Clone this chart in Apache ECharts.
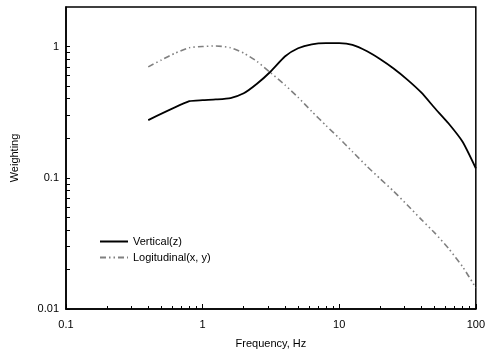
<!DOCTYPE html>
<html>
<head>
<meta charset="utf-8">
<script src="https://cdn.jsdelivr.net/npm/echarts@6/dist/echarts.min.js"></script>
<style>
html,body{margin:0;padding:0;background:#fff;}
#c{width:488px;height:356px;}
</style>
</head>
<body>
<div id="c"></div>
<script>
// Data
var vertFreq = [0.4, 0.8, 1, 1.25, 1.6, 2, 2.5, 3.15, 4, 5, 6.3, 8, 10, 12.5, 16, 20, 25, 31.5, 40, 50, 63, 80, 100];
var vertVals = [0.275, 0.383, 0.39, 0.395, 0.405, 0.44, 0.52, 0.645, 0.84, 0.97, 1.04, 1.06, 1.06, 1.03, 0.92, 0.80, 0.68, 0.56, 0.445, 0.34, 0.26, 0.188, 0.118];
var longFreq = [0.4, 0.5, 0.63, 0.8, 1, 1.25, 1.6, 2, 2.5, 3.15, 4, 5, 6.3, 8, 10, 12.5, 16, 20, 25, 31.5, 40, 50, 63, 80, 100];
var longVals = [0.70, 0.79, 0.89, 0.98, 1.0, 1.01, 0.98, 0.89, 0.77, 0.63, 0.51, 0.41, 0.32, 0.25, 0.2, 0.158, 0.122, 0.098, 0.079, 0.062, 0.048, 0.038, 0.029, 0.021, 0.0145];
var seriesNames = ['Vertical(z)', 'Logitudinal(x, y)'];
var xName = 'Frequency, Hz';
var yName = 'Weighting';
var yTicks = [0.01, 0.02, 0.03, 0.04, 0.05, 0.06, 0.07, 0.08, 0.09, 0.1, 0.2, 0.3, 0.4, 0.5, 0.6, 0.7, 0.8, 0.9, 1, 2];

function pairs(xs, ys){ return xs.map(function(x,i){ return [x, ys[i]]; }); }

var FONT = 'Liberation Sans, Arial, sans-serif';

var chart = echarts.init(document.getElementById('c'), null, {renderer: 'canvas'});
chart.setOption({
  animation: false,
  backgroundColor: '#fff',
  grid: {left: 66, right: 12, top: 7, bottom: 47, show: true, borderColor: '#000', borderWidth: 1.5, backgroundColor: 'transparent'},
  xAxis: {
    type: 'log', min: 0.1, max: 100,
    name: xName, nameLocation: 'middle', nameGap: 29,
    nameTextStyle: {color: '#000', fontSize: 11, fontFamily: FONT},
    axisLine: {show: true, onZero: false, lineStyle: {color: '#000', width: 1.5}},
    axisTick: {show: true, inside: true, length: 5},
    minorTick: {show: true, splitNumber: 9, length: 3},
    axisLabel: {color: '#000', fontSize: 11, fontFamily: FONT, margin: 10},
    splitLine: {show: false}
  },
  yAxis: {
    type: 'log', min: 0.01, max: 2,
    name: yName, nameLocation: 'middle', nameGap: 46, nameRotate: 90,
    nameTextStyle: {color: '#000', fontSize: 11, fontFamily: FONT},
    axisLine: {show: true, onZero: false, lineStyle: {color: '#000', width: 1.5}},
    axisTick: {show: true, inside: true, length: 4, customValues: yTicks},
    minorTick: {show: false},
    axisLabel: {color: '#000', fontSize: 11, fontFamily: FONT, margin: 7, showMaxLabel: false},
    splitLine: {show: false}
  },
  legend: {
    orient: 'vertical', left: 99, top: 236, padding: 0, itemWidth: 28, itemHeight: 10, itemGap: 5,
    textStyle: {color: '#000', fontSize: 11, fontFamily: FONT},
    itemStyle: {opacity: 0},
    data: seriesNames
  },
  series: [
    {
      name: seriesNames[0], type: 'line',
      data: pairs(vertFreq, vertVals), showSymbol: false, symbol: 'none', smooth: 0.2,
      lineStyle: {color: '#000', width: 1.8}, itemStyle: {color: '#000', opacity: 0}
    },
    {
      name: seriesNames[1], type: 'line',
      data: pairs(longFreq, longVals), showSymbol: false, symbol: 'none', smooth: 0.2,
      lineStyle: {color: '#808080', width: 1.6, type: [6, 3, 1.5, 3, 1.5, 3]}, itemStyle: {color: '#808080', opacity: 0}
    }
  ]
});
</script>
</body>
</html>
